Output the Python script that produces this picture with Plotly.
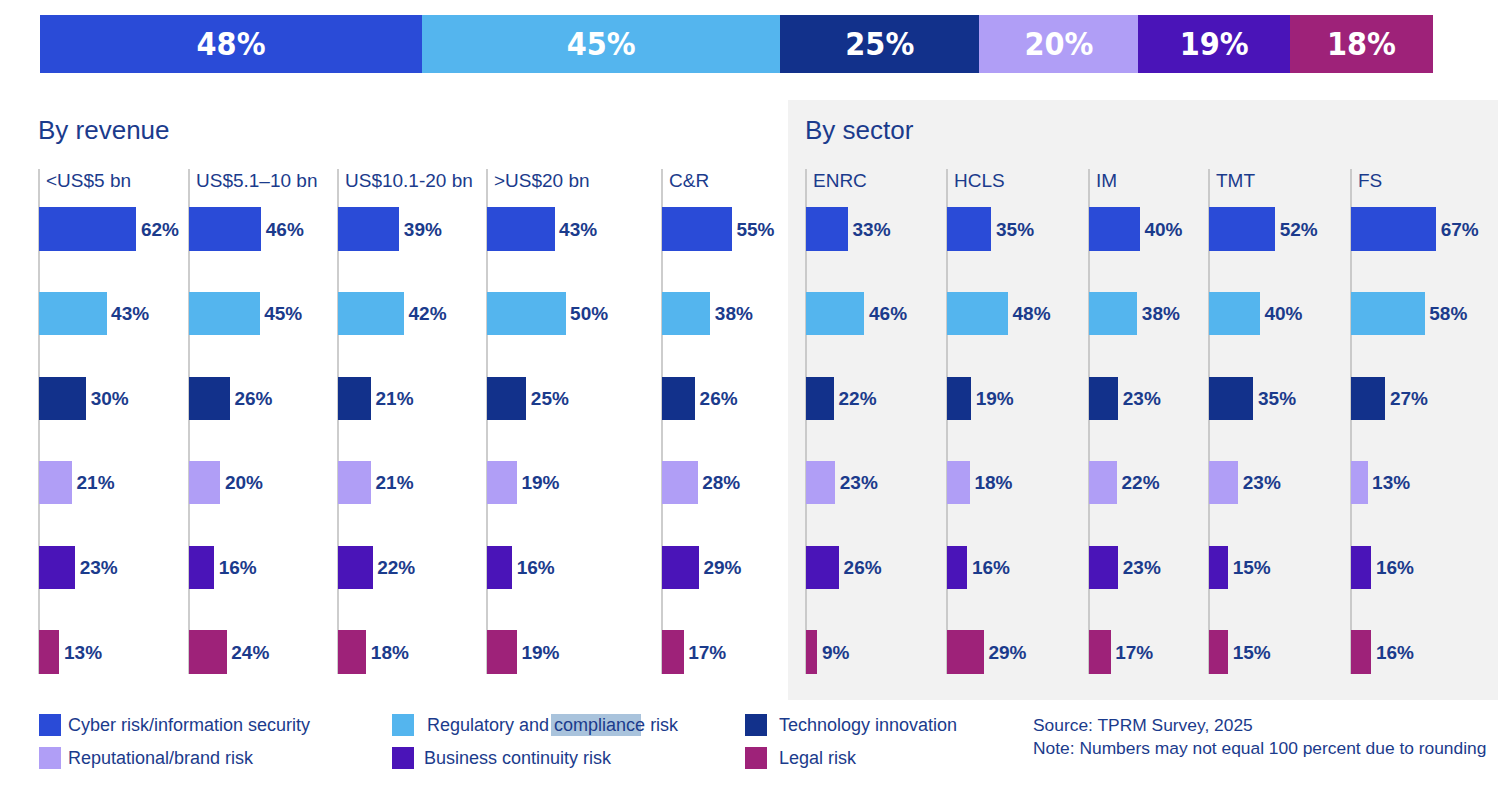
import plotly.graph_objects as go

# ---------------- data ----------------
risks = ["Cyber risk/information security", "Regulatory and compliance risk", "Technology innovation",
         "Reputational/brand risk", "Business continuity risk", "Legal risk"]
colors = ["#2a4bd7", "#54b5ee", "#12318b", "#b09ef6", "#4a14b8", "#9e2279"]

overall = [48, 45, 25, 20, 19, 18]

panel_names = ["<US$5 bn", "US$5.1–10 bn", "US$10.1-20 bn", ">US$20 bn", "C&R",
               "ENRC", "HCLS", "IM", "TMT", "FS"]
lt_5bn = [62, 43, 30, 21, 23, 13]
bn_5_10 = [46, 45, 26, 20, 16, 24]
bn_10_20 = [39, 42, 21, 21, 22, 18]
gt_20bn = [43, 50, 25, 19, 16, 19]
c_r = [55, 38, 26, 28, 29, 17]
enrc = [33, 46, 22, 23, 26, 9]
hcls = [35, 48, 19, 18, 16, 29]
im = [40, 38, 23, 22, 23, 17]
tmt = [52, 40, 35, 23, 15, 15]
fs = [67, 58, 27, 13, 16, 16]
panel_values = [lt_5bn, bn_5_10, bn_10_20, gt_20bn, c_r, enrc, hcls, im, tmt, fs]

source_lines = ["Source: TPRM Survey, 2025", "Note: Numbers may not equal 100 percent due to rounding"]

# ---------------- layout helpers ----------------
W, H = 1498, 790
NAVY = "#1b3b8c"
FONT = "Liberation Sans, Arial, Helvetica, sans-serif"


def px(x):
    return x / W


def py(y):
    return 1 - y / H


fig = go.Figure()

# top stacked bar
for i, v in enumerate(overall):
    fig.add_trace(go.Bar(
        x=[v], y=["all"], orientation="h", marker=dict(color=colors[i], line=dict(width=0)),
        width=1, texttemplate='<span style="font-stretch:condensed">%{x}%</span>',
        textposition="inside", insidetextanchor="middle",
        textangle=0, constraintext="none",
        textfont=dict(family="DejaVu Sans Condensed, DejaVu Sans, sans-serif",
                      size=32, color="white", weight="bold"),
        xaxis="x", yaxis="y", showlegend=False, hoverinfo="skip"))

layout = dict(
    width=W, height=H, margin=dict(l=0, r=0, t=0, b=0),
    paper_bgcolor="white", plot_bgcolor="rgba(0,0,0,0)",
    barmode="stack", showlegend=False, font=dict(family=FONT, color=NAVY),
    xaxis=dict(domain=[px(40), px(1433)], range=[0, sum(overall)], visible=False, fixedrange=True),
    yaxis=dict(domain=[py(73), py(15)], range=[-0.5, 0.5], visible=False, fixedrange=True),
)

panel_lefts = [39, 189, 338, 487, 662, 806, 947, 1089, 1209, 1351]
scales = [1.57, 1.57, 1.57, 1.57, 1.27, 1.27, 1.27, 1.27, 1.27, 1.27]
row_top, row_bot = 186.7, 694.3

shapes = [dict(type="rect", xref="paper", yref="paper", x0=px(788), x1=px(1498), y0=py(700), y1=py(100),
               fillcolor="#f2f2f2", line=dict(width=0), layer="below")]
annotations = []

for k, (name, vals) in enumerate(zip(panel_names, panel_values)):
    ax = k + 2
    left = panel_lefts[k]
    nxt = panel_lefts[k + 1] if k + 1 < len(panel_lefts) else W
    pw = nxt - left - 2
    fig.add_trace(go.Bar(
        x=vals, y=risks, orientation="h", width=0.51,
        marker=dict(color=colors, line=dict(width=0)),
        texttemplate="\u200a%{x}%", textposition="outside", cliponaxis=False, constraintext="none",
        textfont=dict(family=FONT, size=19, color=NAVY, weight="bold"),
        xaxis=f"x{ax}", yaxis=f"y{ax}", showlegend=False, hoverinfo="skip"))
    layout[f"xaxis{ax}"] = dict(domain=[px(left), px(left + pw)], range=[0, pw / scales[k]],
                                visible=False, fixedrange=True)
    layout[f"yaxis{ax}"] = dict(domain=[py(row_bot), py(row_top)], type="category",
                                categoryorder="array", categoryarray=risks,
                                range=[5.5, -0.5], visible=False, fixedrange=True)
    shapes.append(dict(type="line", xref="paper", yref="paper", x0=px(left), x1=px(left),
                       y0=py(674), y1=py(169), line=dict(color="#bdbdbd", width=1.5), layer="below"))
    annotations.append(dict(text=name, xref="paper", yref="paper", x=px(left + 5), y=py(180),
                            xanchor="left", yanchor="middle", showarrow=False,
                            font=dict(family=FONT, size=19, color=NAVY)))

annotations.append(dict(text="By revenue", xref="paper", yref="paper", x=px(36), y=py(130),
                        xanchor="left", yanchor="middle", showarrow=False,
                        font=dict(family=FONT, size=26, color=NAVY)))
annotations.append(dict(text="By sector", xref="paper", yref="paper", x=px(803), y=py(130),
                        xanchor="left", yanchor="middle", showarrow=False,
                        font=dict(family=FONT, size=26, color=NAVY)))

# legend (custom)
leg_cols = [39, 392, 745]
leg_text_x = [66, 425, 777]
leg_rows = [725, 758]
# selection highlight behind "compliance"
shapes.append(dict(type="rect", xref="paper", yref="paper", x0=px(551), x1=px(641), y0=py(736), y1=py(714),
                   fillcolor="#a9c3dc", line=dict(width=0), layer="below"))
for i, (name, col) in enumerate(zip(risks, colors)):
    r, c = divmod(i, 3)
    cy = leg_rows[r]
    shapes.append(dict(type="rect", xref="paper", yref="paper", x0=px(leg_cols[c]), x1=px(leg_cols[c] + 22),
                       y0=py(cy + 11), y1=py(cy - 11), fillcolor=col, line=dict(width=0)))
    tx = leg_text_x[c] - (3 if (c == 1 and r == 1) else 0)
    annotations.append(dict(text=name, xref="paper", yref="paper", x=px(tx), y=py(cy),
                            xanchor="left", yanchor="middle", showarrow=False,
                            font=dict(family=FONT, size=18, color=NAVY)))

for j, line in enumerate(source_lines):
    annotations.append(dict(text=line, xref="paper", yref="paper", x=px(1031), y=py(725 + 23 * j),
                            xanchor="left", yanchor="middle", showarrow=False,
                            font=dict(family=FONT, size=17.4, color=NAVY)))

layout["shapes"] = shapes
layout["annotations"] = annotations
fig.update_layout(**layout)

fig.write_html("out.html")
